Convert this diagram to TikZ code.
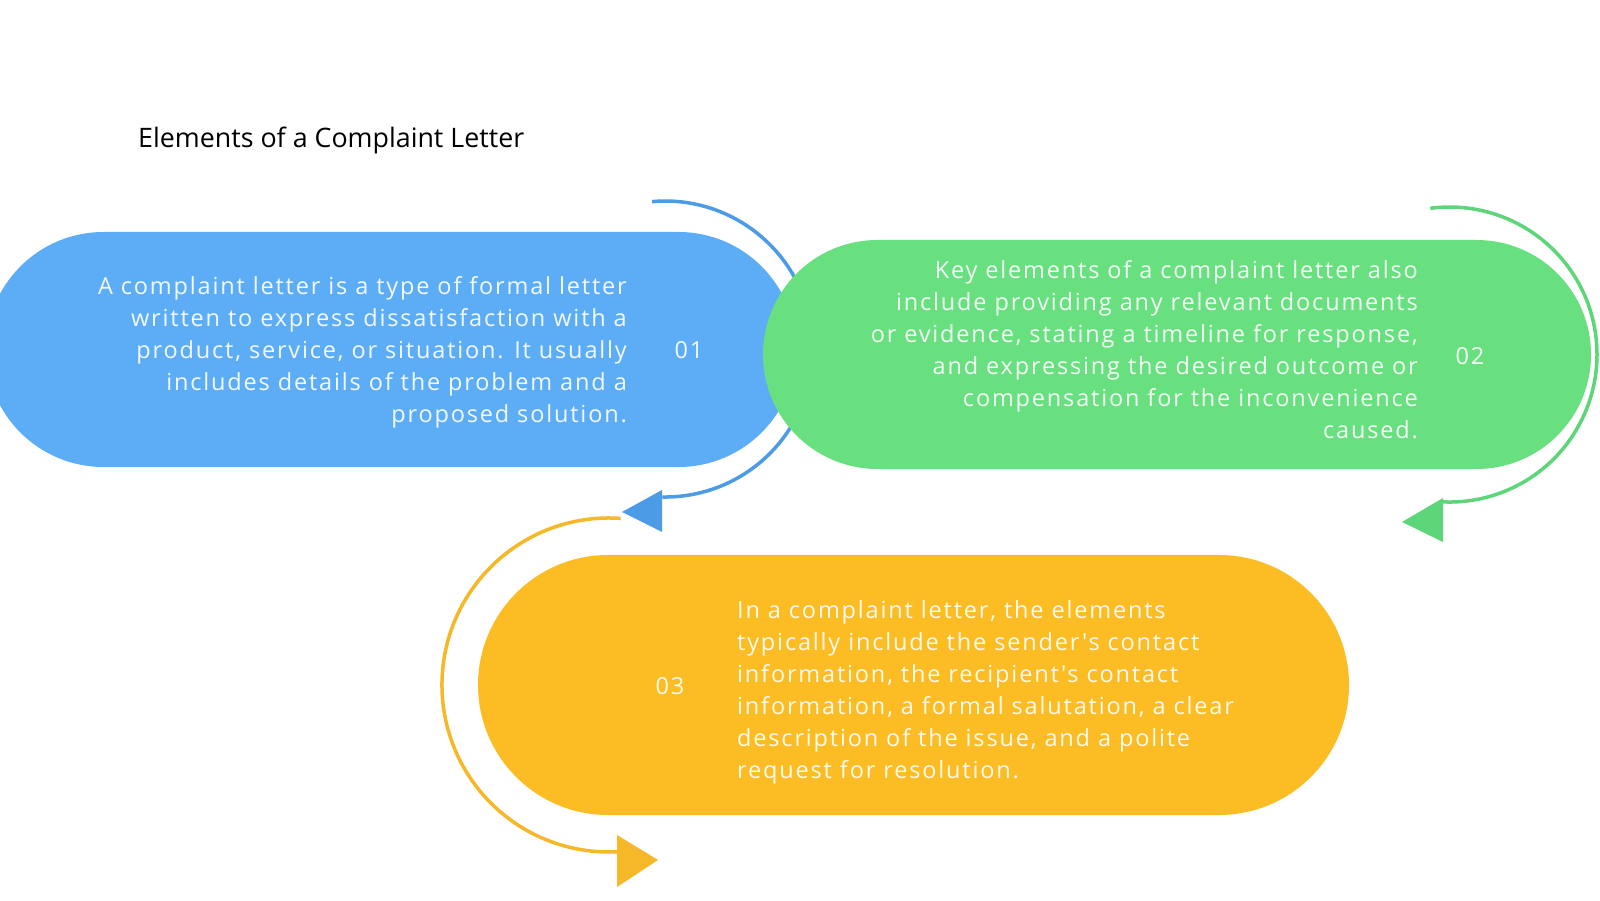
\documentclass[tikz,border=0pt]{standalone}
\usepackage{fontspec}
\setmainfont{Open Sans}
\newfontfamily\bodyfont[LetterSpace=7.8]{Open Sans}
\definecolor{bluepill}{RGB}{93,173,246}
\definecolor{bluearc}{RGB}{75,155,230}
\definecolor{greenpill}{RGB}{104,224,128}
\definecolor{greenarc}{RGB}{92,214,120}
\definecolor{yellowpill}{RGB}{251,189,35}
\definecolor{yellowarc}{RGB}{246,183,40}
\tikzset{
  pill/.style={inner sep=0pt, outer sep=0pt},
  bodytext/.style={inner sep=0pt, text=white, text opacity=0.92, font=\bodyfont\fontsize{23.5}{32}\selectfont},
  numtext/.style={inner sep=0pt, text=white, text opacity=0.92, font=\bodyfont\fontsize{23.5}{26}\selectfont},
  cyc/.style={line width=3.5pt},
}
\begin{document}
\begin{tikzpicture}[x=1pt,y=1pt]
\useasboundingbox (0,0) rectangle (1600,900);
\fill[white] (0,0) rectangle (1600,900);
\clip (0,0) rectangle (1600,900);

% title
\node[inner sep=0pt, anchor=west, font=\fontsize{26.8}{30}\selectfont] (title) at (138,760) {Elements of a Complaint Letter};

% blue pill
\node[pill, fill=bluepill, rounded corners=117.5pt, minimum width=810pt, minimum height=235pt] (p1) at (391,550.5) {};
% blue arc
\coordinate (a1s) at (652.1,698.4);
\coordinate (h1b1) at (662,410);
\coordinate (h1b2) at (662,368);
\coordinate (h1t) at (622,388);
\draw[cyc, bluearc] (a1s) arc[start angle=95, end angle=-91, radius=148pt];
\fill[bluearc] (h1b1) -- (h1t) -- (h1b2) -- cycle;

% green pill
\node[pill, fill=greenpill, rounded corners=114.5pt, minimum width=828pt, minimum height=229pt] (p2) at (1177,545.5) {};
% green arc
\coordinate (a2s) at (1430.25,691.7);
\coordinate (h2b1) at (1443,402);
\coordinate (h2b2) at (1443,358);
\coordinate (h2t) at (1402,378);
\draw[cyc, greenarc] (a2s) arc[start angle=97.5, end angle=-92.5, radius=147.5pt];
\fill[greenarc] (h2b1) -- (h2t) -- (h2b2) -- cycle;

% yellow pill
\node[pill, fill=yellowpill, rounded corners=130pt, minimum width=871pt, minimum height=260pt] (p3) at (913.5,215) {};
% yellow arc
\coordinate (a3s) at (620.6,381.6);
\coordinate (h3b1) at (617,65);
\coordinate (h3b2) at (617,13);
\coordinate (h3t) at (658,40);
\draw[cyc, yellowarc] (a3s) arc[start angle=86, end angle=273, radius=167pt];
\fill[yellowarc] (h3b1) -- (h3t) -- (h3b2) -- cycle;

% texts
\node[bodytext, anchor=east, align=right] (t1) at (627,548) {A complaint letter is a type of formal letter\\written to express dissatisfaction with a\\product, service, or situation. It usually\\includes details of the problem and a\\proposed solution.};
\node[numtext] (n1) at (689,550) {01};

\node[bodytext, anchor=east, align=right] (t2) at (1418,550) {Key elements of a complaint letter also\\include providing any relevant documents\\or evidence, stating a timeline for response,\\and expressing the desired outcome or\\compensation for the inconvenience\\caused.};
\node[numtext] (n2) at (1470,544) {02};

\node[bodytext, anchor=west, align=left] (t3) at (737,208) {In a complaint letter, the elements\\typically include the sender's contact\\information, the recipient's contact\\information, a formal salutation, a clear\\description of the issue, and a polite\\request for resolution.};
\node[numtext] (n3) at (670,214) {03};
\end{tikzpicture}
\end{document}
